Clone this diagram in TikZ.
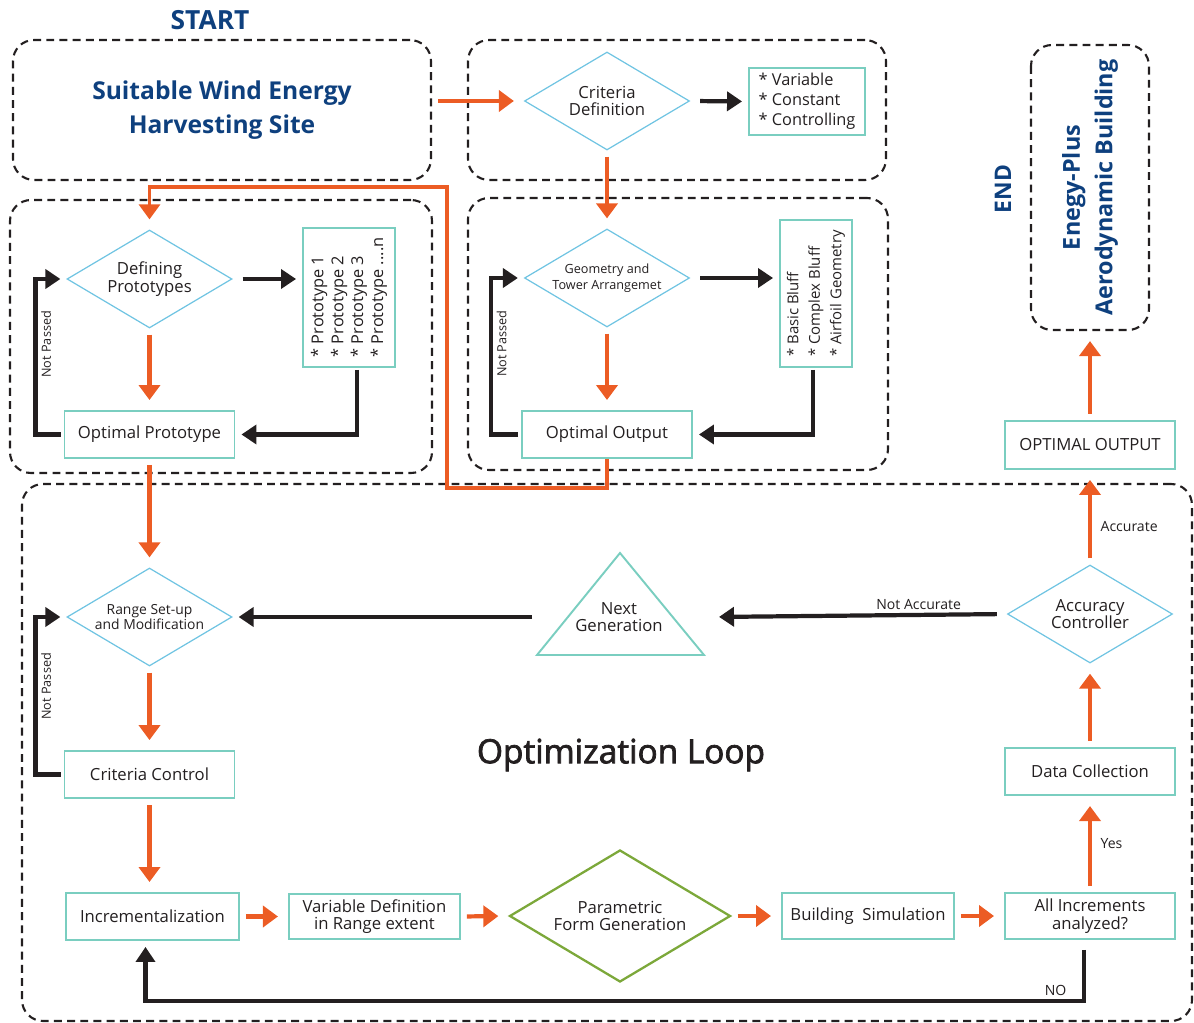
\documentclass[tikz,border=0pt]{standalone}
\usepackage{fontspec}
\setmainfont{Open Sans}
\newfontfamily\loopfont[FakeBold=2.2]{Open Sans}
\usepackage{tikz}
\usetikzlibrary{positioning, arrows.meta, calc, shapes.geometric}
\definecolor{flow}{RGB}{236,92,36}
\definecolor{headblue}{RGB}{14,64,126}
\definecolor{boxline}{RGB}{122,206,192}
\definecolor{dmdline}{RGB}{112,196,226}
\definecolor{formline}{RGB}{124,168,58}
\definecolor{ink}{RGB}{35,31,32}
\newcommand{\pxu}{0.02cm}
\tikzset{
  group/.style={
    draw=ink, line width=1.2pt, dash pattern=on 4.5pt off 3pt,
    rounded corners=0.42cm
  },
  box/.style={
    draw=boxline, line width=1.1pt, align=center, text=ink,
    font=\fontsize{9.5}{10}\selectfont, inner sep=1pt
  },
  listbox/.style={box, align=left, font=\fontsize{9.3}{11.3}\selectfont},
  decide/.style={
    diamond, draw=dmdline, line width=0.7pt, aspect=1.7, inner sep=0pt,
    align=center, text=ink, font=\fontsize{9.5}{10}\selectfont,
    minimum width=165*\pxu, minimum height=98*\pxu
  },
  heading/.style={text=headblue, align=center, font=\fontsize{14}{19}\selectfont\bfseries},
  orangeflow/.style={
    draw=flow, line width=2.4pt, -{Triangle[length=0.3cm,width=0.42cm]},
    shorten <=0.12cm, shorten >=0.2cm
  },
  blackflow/.style={
    draw=ink, line width=2.4pt, -{Triangle[length=0.3cm,width=0.38cm]},
    shorten <=0.2cm, shorten >=0.12cm
  },
  tag/.style={text=ink, font=\fontsize{8}{9}\selectfont, inner sep=2pt},
  passtag/.style={tag, font=\fontsize{7.2}{8}\selectfont, rotate=90, below},
}
\begin{document}
\begin{tikzpicture}[x=\pxu, y=-\pxu]
  \useasboundingbox (0,0) rectangle (1194,1023);

  % start and end
  \node[heading, font=\fontsize{15}{16}\selectfont\bfseries] (startlbl) at (210,20) {START};
  \node[group, heading, minimum width=418*\pxu, minimum height=140*\pxu] (site) at (222,110) {Suitable Wind Energy\\Harvesting Site};
  \node[heading, rotate=90, font=\fontsize{13}{16}\selectfont\bfseries] (endlbl) at (1003,189) {END};
  \node[group, heading, rotate=90, font=\fontsize{13.3}{18.5}\selectfont\bfseries,
        minimum width=285*\pxu, minimum height=118*\pxu] (goal) at (1090,187.5) {Enegy-Plus\\Aerodynamic Building};

  % criteria
  \node[group, minimum width=418*\pxu, minimum height=140*\pxu] (critgroup) at (677,110) {};
  \node[decide] (crit) at (607,101) {Criteria\\Definition};
  \node[listbox, minimum width=116*\pxu, minimum height=67*\pxu] (critlist) at (807,101.5) {* Variable\\* Constant\\* Controlling};

  % prototypes
  \node[group, minimum width=422*\pxu, minimum height=273*\pxu] (protogroup) at (221,336.5) {};
  \node[decide] (defproto) at (149.5,279) {Defining\\Prototypes};
  \node[listbox, rotate=90, minimum width=139*\pxu, minimum height=92*\pxu] (protolist) at (349,297.5) {* Prototype 1\\* Prototype 2\\* Prototype 3\\* Prototype ....n};
  \node[box, minimum width=170*\pxu, minimum height=47*\pxu] (optproto) at (149.5,434.5) {Optimal Prototype};

  % geometry
  \node[group, minimum width=420*\pxu, minimum height=272*\pxu] (geomgroup) at (678,334) {};
  \node[decide, font=\fontsize{7.2}{9}\selectfont] (geom) at (607,278) {Geometry and\\Tower Arrangemet};
  \node[listbox, rotate=90, font=\fontsize{8.5}{12.2}\selectfont, minimum width=147*\pxu, minimum height=72*\pxu] (geomlist) at (816,293.5) {* Basic Bluff\\* Complex Bluff\\* Airfoil Geometry};
  \node[box, minimum width=170*\pxu, minimum height=47*\pxu] (optout) at (607,434.5) {Optimal Output};

  % optimization loop
  \node[group, minimum width=1170*\pxu, minimum height=537*\pxu] (loop) at (607,752.5) {};
  \node[text=ink, font=\fontsize{19}{22}\selectfont\loopfont] (looplbl) at (621,755) {Optimization Loop};
  \node[decide, font=\fontsize{7.9}{9}\selectfont] (range) at (149.5,617) {Range Set-up\\and Modification};
  \node[box, minimum width=170*\pxu, minimum height=47*\pxu, below=1.67cm of range] (critctrl) {Criteria Control};
  \node[box, minimum width=173*\pxu, minimum height=47*\pxu] (incr) at (152.5,916.5) {Incrementalization};
  \node[box, minimum width=171*\pxu, minimum height=45*\pxu, right=0.96cm of incr] (vardef) {Variable Definition\\in Range extent};
  \node[decide, draw=formline, line width=1.3pt, minimum width=221*\pxu, minimum height=132*\pxu] (param) at (620,916) {Parametric\\Form Generation};
  \node[box, minimum width=172*\pxu, minimum height=46*\pxu] (bsim) at (868,916) {Building~ Simulation};
  \node[box, minimum width=170*\pxu, minimum height=46*\pxu] (allinc) at (1090,916) {All Increments\\analyzed?};
  \node[box, minimum width=170*\pxu, minimum height=47*\pxu, above=1.92cm of allinc] (datacol) {Data Collection};
  \node[decide, above=1.67cm of datacol] (acc) {Accuracy\\Controller};
  \node[box, minimum width=170*\pxu, minimum height=48*\pxu, above=1.89cm of acc] (final) {OPTIMAL OUTPUT};
  \node[text=ink, align=center, font=\fontsize{9.5}{10}\selectfont] (nextgen) at (619,617) {Next\\Generation};
  \draw[draw=boxline, line width=1.1pt] ($(nextgen)+(1,-64)$) -- ($(nextgen)+(-82,38)$) -- ($(nextgen)+(85,38)$) -- cycle;

  % orange flow
  \path[every edge/.style={orangeflow}]
    (crit.west -| site.east) edge (crit.west)
    (crit.south) edge (geom.north)
    (defproto.south) edge (optproto.north)
    (geom.south) edge (optout.north)
    (optproto.south) edge (range.north)
    (range.south) edge (critctrl.north)
    (critctrl.south) edge (critctrl.south |- incr.north)
    (incr.east) edge (vardef.west)
    (vardef.east) edge (param.west)
    (param.east) edge (bsim.west)
    (bsim.east) edge (allinc.west)
    (allinc.north) edge node[tag, right, xshift=0.1cm] {Yes} (datacol.south)
    (datacol.north) edge (acc.south)
    (acc.north) edge node[tag, right, xshift=0.1cm, pos=0.4] {Accurate} (final.south)
    (final.north) edge (goal.west);
  \draw[orangeflow, line width=1.8pt, shorten <=0pt] (optout.south) -- ++(0,29) -- ++(-160,0) -- ++(0,-301) -| (defproto.north);

  % black flow
  \path[every edge/.style={blackflow}]
    (crit.east) edge (critlist.west)
    (defproto.east) edge (defproto.east -| protolist.north)
    (geom.east) edge (geom.east -| geomlist.north)
    (acc.west) edge node[tag, above, pos=0.3] {Not Accurate} ($(nextgen)+(94,0)$)
    ($(nextgen)+(-77,0)$) edge (range.east);
  \draw[blackflow, shorten <=0.04cm] ($(protolist.west)+(8,0)$) |- (optproto.east);
  \draw[blackflow, shorten <=0.04cm] ($(geomlist.west)+(-3,0)$) |- (optout.east);
  \draw[blackflow, shorten <=0.06cm] (optproto.west) -- ++(-28,0) |- node[passtag, pos=0.29] {Not Passed} (defproto.west);
  \draw[blackflow, shorten <=0.06cm] (optout.west) -- ++(-30,0) |- node[passtag, pos=0.29] {Not Passed} (geom.west);
  \draw[blackflow, shorten <=0.06cm] (critctrl.west) -- ++(-28,0) |- node[passtag, pos=0.28] {Not Passed} (range.west);
  \draw[blackflow] ($(allinc.south)+(-6,0)$) -- ++(0,61) -| node[tag, pos=0, anchor=south east, xshift=-0.24cm] {NO} ($(incr.south)+(-7,0)$);
\end{tikzpicture}
\end{document}
